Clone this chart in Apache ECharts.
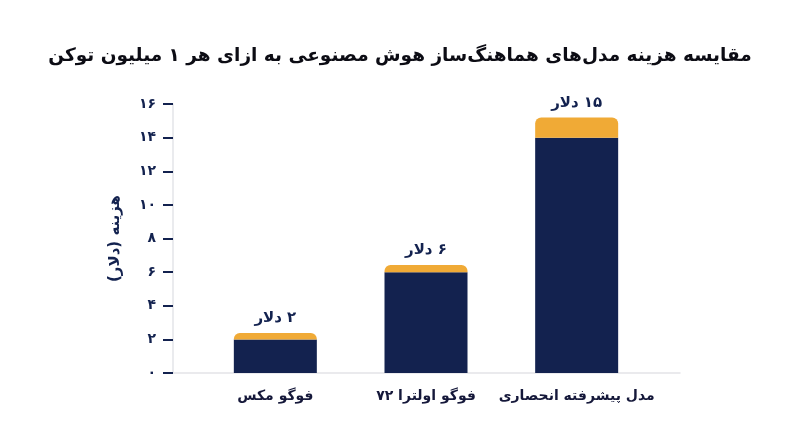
<!DOCTYPE html>
<html dir="rtl">
<head>
<meta charset="utf-8">
<script src="https://cdn.jsdelivr.net/npm/echarts@6/dist/echarts.min.js"></script>
<style>
html,body{margin:0;padding:0;background:#fff;}
#c{width:800px;height:447px;direction:rtl;}
</style>
</head>
<body>
<div id="c" dir="rtl"></div>
<script>
var categories = ['فوگو مکس', 'فوگو اولترا ۷۲', 'مدل پیشرفته انحصاری'];
var baseValues = [2, 6, 14];
var capValues = [0.38, 0.42, 1.2];
var barLabels = ['۲ دلار', '۶ دلار', '۱۵ دلار'];
var titleText = 'مقایسه هزینه مدل‌های هماهنگ‌ساز هوش مصنوعی به ازای هر ۱ میلیون توکن';
var yName = 'هزینه (دلار)';

var FONT = '"DejaVu Sans", "Noto Sans", sans-serif';
var NAVY = '#13224f';
var ORANGE = '#f0aa36';
function fa(n){return String(n).replace(/[0-9]/g,function(d){return '۰۱۲۳۴۵۶۷۸۹'[+d];});}

var chart = echarts.init(document.getElementById('c'));
chart.setOption({
  backgroundColor:'#ffffff',
  animation:false,
  title:{text:titleText,left:'center',top:42,textStyle:{fontFamily:FONT,fontSize:18.5,fontWeight:'bold',color:'#0c0c14'}},
  grid:[
    {left:173,right:120,top:104,bottom:74},
    {left:200,right:148,top:104,bottom:74}
  ],
  xAxis:[
    {gridIndex:0,type:'value',min:0,max:1,axisLine:{show:true,lineStyle:{color:'#e3e4e8',width:1.5}},axisTick:{show:false},axisLabel:{show:false},splitLine:{show:false}},
    {gridIndex:1,type:'category',data:categories,axisLine:{show:false},axisTick:{show:false},
      axisLabel:{interval:0,margin:16,fontFamily:FONT,fontSize:14,fontWeight:'bold',color:'#15183a'}}
  ],
  yAxis:[
    {gridIndex:0,type:'value',min:0,max:16,interval:2,
      name:yName,nameLocation:'middle',nameGap:50,
      nameTextStyle:{fontFamily:FONT,fontSize:15,fontWeight:'bold',color:NAVY},
      axisLine:{show:true,lineStyle:{color:'#e3e4e8',width:1.5}},
      axisTick:{show:true,length:10,lineStyle:{color:NAVY,width:2}},
      axisLabel:{margin:17,fontFamily:FONT,fontSize:14,fontWeight:'bold',color:NAVY,formatter:function(v){return fa(v);}},
      splitLine:{show:false}},
    {gridIndex:1,type:'value',min:0,max:16,show:false}
  ],
  series:[
    {type:'bar',xAxisIndex:1,yAxisIndex:1,stack:'s',data:baseValues,barWidth:83,itemStyle:{color:NAVY}},
    {type:'bar',xAxisIndex:1,yAxisIndex:1,stack:'s',data:capValues,barWidth:83,itemStyle:{color:ORANGE,borderRadius:[6,6,0,0]},
      label:{show:true,position:'top',distance:7,fontFamily:FONT,fontSize:15,fontWeight:'bold',color:NAVY,
        formatter:function(p){return barLabels[p.dataIndex];}}}
  ]
});
</script>
</body>
</html>
